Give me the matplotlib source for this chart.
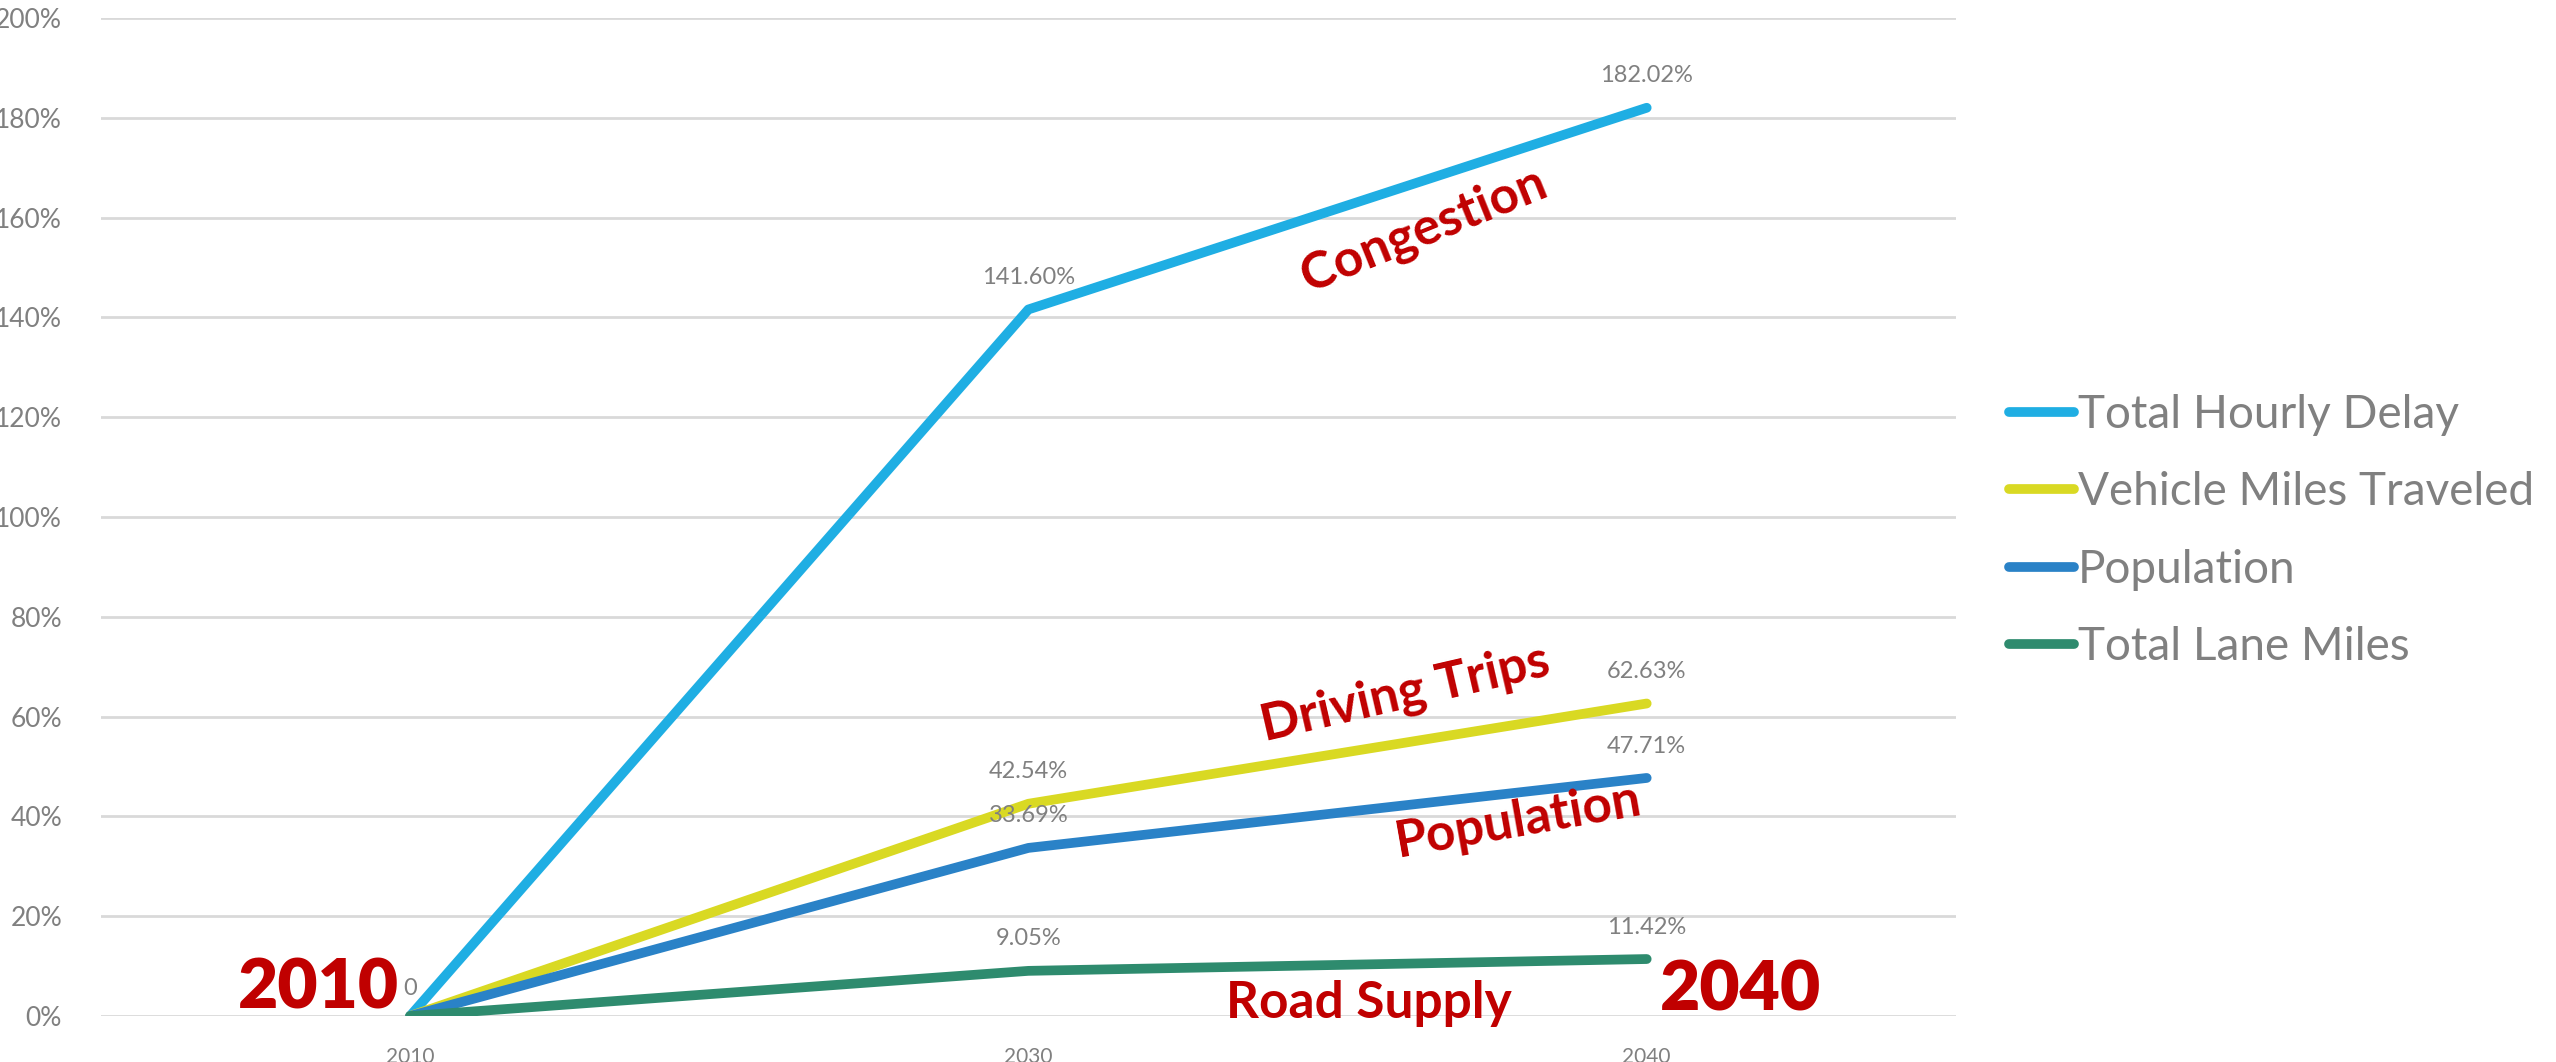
import matplotlib.pyplot as plt
from matplotlib.ticker import FuncFormatter

plt.rcParams['font.family'] = ['Lato', 'DejaVu Sans']

# Данные
years = ['2010', '2030', '2040']

series_names = [
    'Total Hourly Delay',
    'Vehicle Miles Traveled',
    'Population',
    'Total Lane Miles',
]

hourly_delay = [0, 141.60, 182.02]
vehicle_miles = [0, 42.54, 62.63]
population = [0, 33.69, 47.71]
lane_miles = [0, 9.05, 11.42]

colors = ['#1FAEE3', '#D9D923', '#2A82C7', '#2E8B6E']

gray = '#808080'
red = '#C00000'


def main():

    fig = plt.figure(figsize=(25.56, 10.62), dpi=100)
    ax = fig.add_axes([0.0395, 0.0433, 0.7257, 0.9397])

    all_series = [hourly_delay, vehicle_miles, population, lane_miles]
    x = list(range(len(years)))

    # Линии
    for name, values, color in zip(series_names, all_series, colors):
        ax.plot(x, values, color=color, linewidth=7,
                solid_capstyle='round', label=name, zorder=3)

    # Подписи значений
    for values in all_series:
        for xi, v in zip(x[1:], values[1:]):
            ax.annotate(f'{v:.2f}%', (xi, v), xytext=(0, 23),
                        textcoords='offset points', ha='center',
                        va='center', fontsize=17, color=gray, zorder=4)
    ax.annotate('0', (0, 0), xytext=(0, 20), textcoords='offset points',
                ha='center', va='center', fontsize=17, color=gray)

    # Оси
    ax.set_xlim(-0.5, 2.5)
    ax.set_ylim(0, 200)
    ax.set_yticks(range(0, 201, 20))
    ax.yaxis.set_major_formatter(FuncFormatter(lambda v, p: f'{v:.0f}%'))
    ax.set_xticks(x)
    ax.set_xticklabels(years)

    ax.tick_params(axis='y', length=0, labelsize=19, labelcolor=gray, pad=28)
    ax.tick_params(axis='x', length=0, labelsize=15, labelcolor=gray, pad=22)

    for spine in ax.spines.values():
        spine.set_visible(False)

    ax.grid(axis='y', color='#D9D9D9', linewidth=2)
    ax.set_axisbelow(True)

    # Красные надписи
    ax.text(1.64, 157.5, 'Congestion', rotation=22, fontsize=37,
            fontweight='bold', color=red, ha='center', va='center')
    ax.text(1.609, 64.5, 'Driving Trips', rotation=13, fontsize=37,
            fontweight='bold', color=red, ha='center', va='center')
    ax.text(1.793, 39.0, 'Population', rotation=10, fontsize=37,
            fontweight='bold', color=red, ha='center', va='center')
    ax.text(1.551, 2.5, 'Road Supply', fontsize=37,
            fontweight='bold', color=red, ha='center', va='center')
    ax.text(-0.149, 5.4, '2010', fontsize=50, fontweight='heavy',
            color=red, ha='center', va='center')
    ax.text(2.152, 5.0, '2040', fontsize=50, fontweight='heavy',
            color=red, ha='center', va='center')

    # Легенда
    leg = ax.legend(loc='center left', bbox_to_anchor=(0.770, 0.5),
                    bbox_transform=fig.transFigure, frameon=False,
                    fontsize=33, handlelength=1.4, handletextpad=0.1,
                    labelspacing=0.77)
    for text in leg.get_texts():
        text.set_color(gray)

    fig.savefig('out.png', dpi=100)


if __name__ == '__main__':
    main()
